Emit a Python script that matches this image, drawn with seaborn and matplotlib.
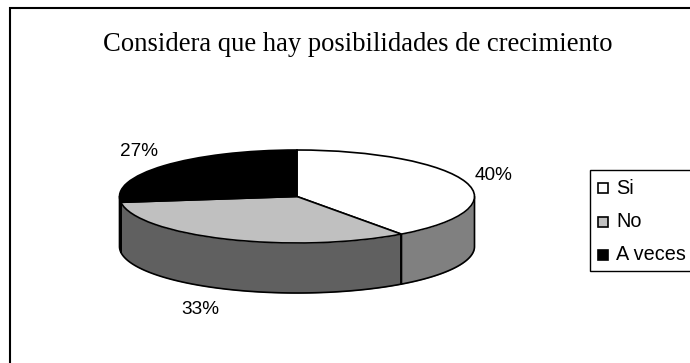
import numpy as np
import matplotlib
matplotlib.use("Agg")
import matplotlib.pyplot as plt
from matplotlib.patches import Rectangle
import seaborn as sns

categories = ["Si", "No", "A veces"]
shares = [40, 33, 27]
top_colors = ["#ffffff", "#c0c0c0", "#000000"]
wall_colors = ["#808080", "#606060", "#202020"]
title = "Considera que hay posibilidades de crecimiento"

W, H = 690, 363
sns.set_theme(style="white")
plt.rcParams["font.family"] = ["Liberation Sans", "DejaVu Sans"]

fig = plt.figure(figsize=(W / 100, H / 100), dpi=100, facecolor="white")

# Page layer in pixel units, holding the chart frame and the texts
page = fig.add_axes([0, 0, 1, 1])
page.set_xlim(0, W)
page.set_ylim(H, 0)
page.axis("off")
page.plot([690, 9.5, 9.5], [7.5, 7.5, 363], color="black", lw=1.5, solid_joinstyle="miter")

page.text(103, 51, title, family="Liberation Serif", fontsize=19.2, color="black",
          ha="left", va="baseline")

# Pie axes: the unit ellipse is squashed by stretching the axes
cx, rx, cy, ry, depth = 297, 177.5, 196.5, 46.5, 50
bottom_px = cy + ry + depth + 4
ax = fig.add_axes([(cx - rx) / W - 0.002, 1 - bottom_px / H,
                   2 * rx / W + 0.004, (bottom_px - (cy - ry) + 2) / H])
thick = depth / ry

# Side wall of each slice, visible only along the front half of the rim
edges = np.cumsum([0] + shares) / sum(shares) * 360
for start, end, colour in zip(edges[:-1], edges[1:], wall_colors):
    lo, hi = max(start, 90), min(end, 270)
    if hi <= lo:
        continue
    t = np.radians(np.linspace(lo, hi, 120))
    x, y = np.sin(t), np.cos(t)
    ax.fill_between(x, y, y - thick, color=colour, lw=0, zorder=1)
    ax.plot(np.r_[x[0], x, x[-1]], np.r_[y[0], y - thick, y[-1]],
            color="black", lw=1.2, zorder=2)
    ax.plot([x[-1], x[-1]], [y[-1], y[-1] - thick], color="black", lw=1.2, zorder=2)

wedges, _ = ax.pie(shares, colors=top_colors, startangle=90, counterclock=False,
                   radius=1, wedgeprops={"edgecolor": "black", "linewidth": 1.2, "zorder": 3})
ax.set_aspect("auto")
ax.set_xlim(-1 - 0.002 * W / rx, 1 + 0.002 * W / rx)
ax.set_ylim(-1 - thick - 4 / ry, 1 + 2 / ry)
ax.axis("off")

# Percentage labels
label_pos = [(494, 175.5), (200, 309.5), (139, 151)]
for share, (px, py) in zip(shares, label_pos):
    page.text(px, py, f"{share}%", fontsize=13.7, color="black", ha="center", va="center")

# Legend box with square keys
page.add_patch(Rectangle((590, 169.5), 110, 101, fc="white", ec="black", lw=1.0))
for name, colour, ky in zip(categories, top_colors, [188, 221.5, 255]):
    page.add_patch(Rectangle((597.5, ky - 5), 10, 10, fc=colour, ec="black", lw=1.2))
    page.text(616, ky, name, fontsize=14.3, color="black", ha="left", va="center")

fig.savefig("out.png", dpi=100, facecolor="white")
